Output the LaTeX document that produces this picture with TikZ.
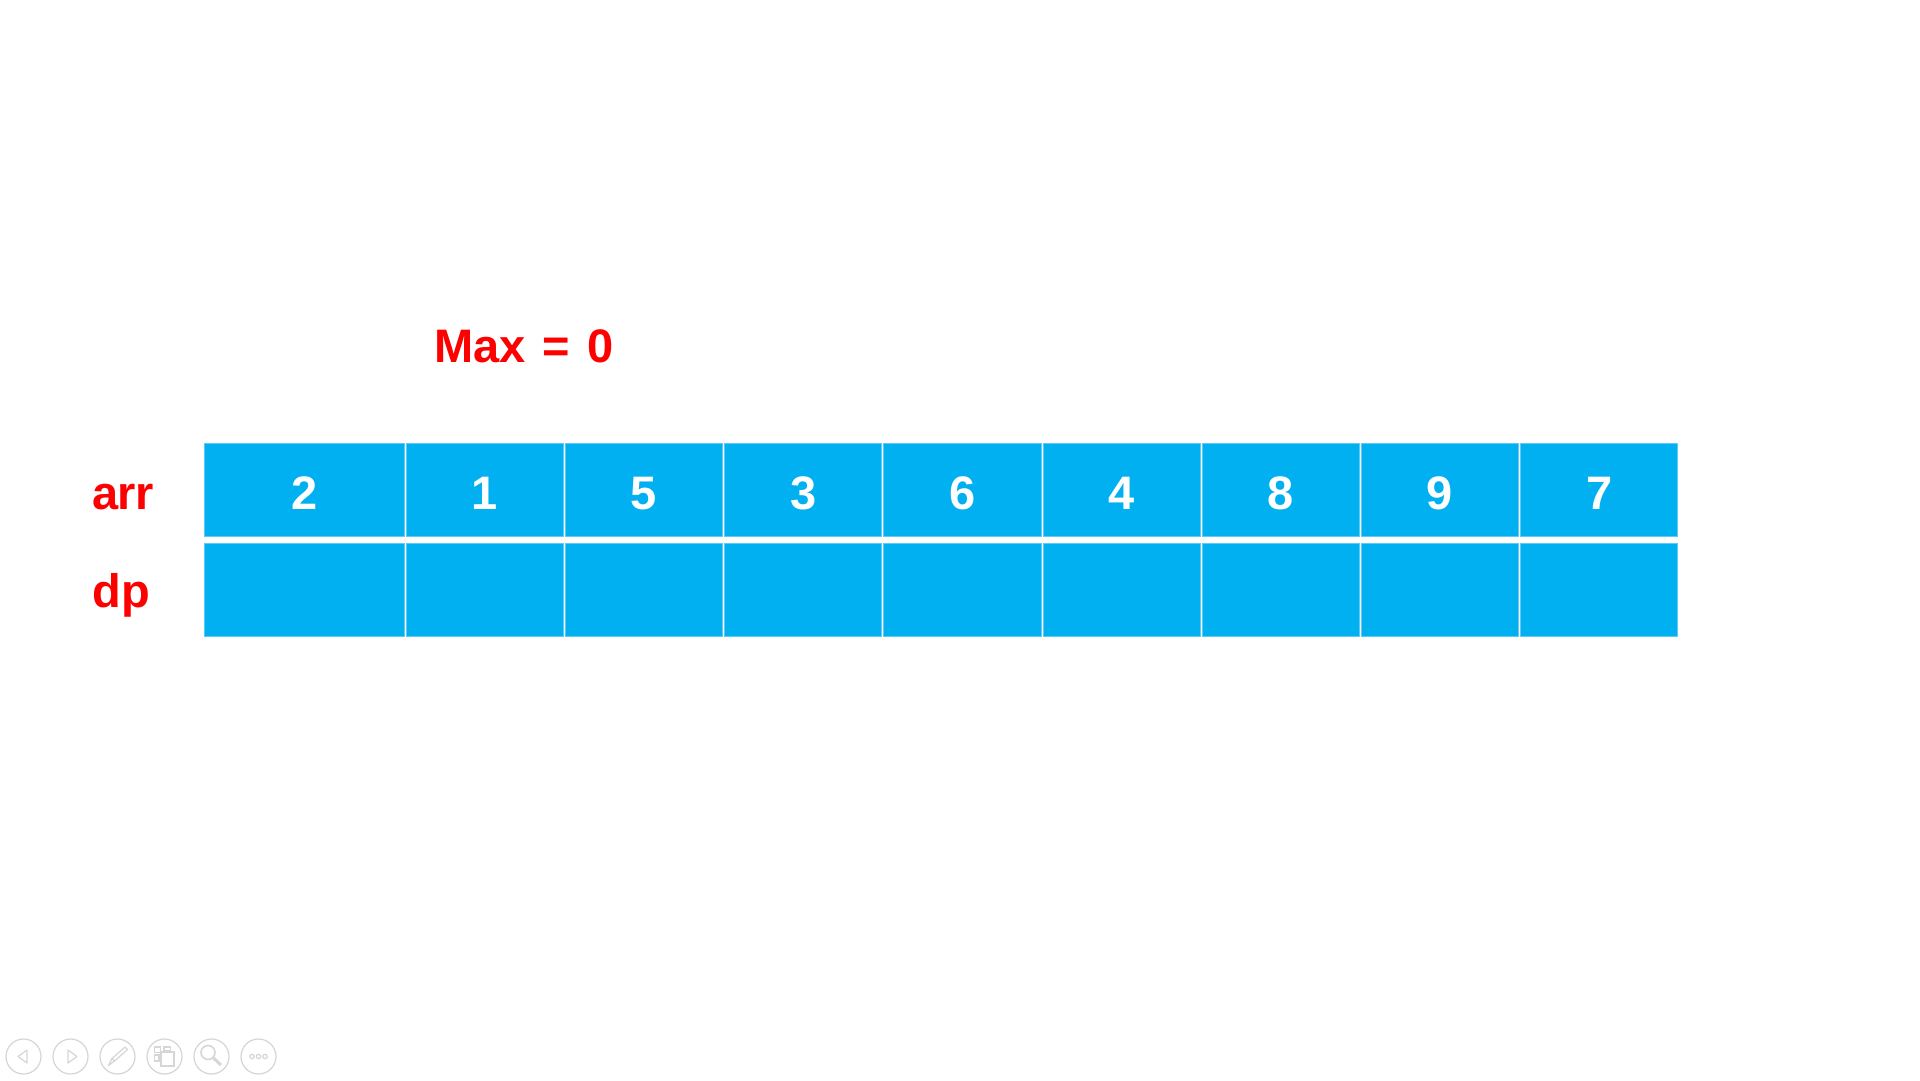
\documentclass[tikz,border=0pt]{standalone}
\usepackage{fontspec}
\setmainfont{Liberation Sans}
\newfontfamily\maxfont[WordSpace=1.3]{Liberation Sans}
\definecolor{cellblue}{HTML}{00B0F0}
\definecolor{celledge}{HTML}{5CCBF5}
\definecolor{toolgray}{HTML}{D6D6D6}
\tikzset{
  x=1pt,y=-1pt,
  cellbox/.style={draw=celledge,line width=0.7pt,fill=cellblue,anchor=north west,inner sep=0pt,outer sep=0pt},
  rowwide/.style={minimum width=199.5pt,minimum height=93pt},
  rownarrow/.style={minimum width=157.2pt,minimum height=93pt},
  digit/.style={text=white,inner sep=0pt,anchor=base,font=\fontsize{47}{47}\selectfont\bfseries},
  rowlabel/.style={text=red,anchor=base west,inner sep=0pt,font=\fontsize{47}{47}\selectfont\bfseries},
  maxstyle/.style={text=red,anchor=base west,inner sep=0pt,font=\fontsize{47}{47}\maxfont\bfseries},
  toolring/.style={draw=toolgray,line width=1.2pt,circle,minimum size=35pt,inner sep=0pt},
  toolline/.style={draw=toolgray,line width=1.2pt},
}
\begin{document}
\begin{tikzpicture}
\useasboundingbox (0,0) rectangle (1920,1080);
\fill[white] (0,0) rectangle (1920,1080);
% Max label
\node[maxstyle] (maxlabel) at (434,362.5) {Max = 0};
% Row labels
\node[rowlabel] (arrlabel) at (92.5,509) {a\kern-1pt r\kern-1pt r};
\node[rowlabel] (dplabel) at (92.5,607) {dp};
% Cells
\node[cellbox,rowwide] (a0) at (204.5,443.5) {};
\node[cellbox,rowwide] (d0) at (204.5,543.5) {};
\node[digit] (n0) at (304.7,509) {2};
\foreach \v [count=\i from 0] in {1,5,3,6,4,8,9,7}{
  \pgfmathsetmacro{\xx}{406.1+159.2*\i}
  \pgfmathsetmacro{\tx}{484.7+159.2*\i}
  \node[cellbox,rownarrow] (a\the\numexpr\i+1\relax) at (\xx,443.5) {};
  \node[cellbox,rownarrow] (d\the\numexpr\i+1\relax) at (\xx,543.5) {};
  \node[digit] (n\the\numexpr\i+1\relax) at (\tx,509) {\v};
}
% Toolbar
\foreach \cx [count=\k] in {23.5,70.5,117.5,164.5,211.5,258.5}{
  \node[toolring] (tool\k) at (\cx,1056.5) {};
}
\draw[toolline,line join=round] (27,1050) -- (18,1056.5) -- (27,1063) -- cycle;
\draw[toolline,line join=round] (68,1050) -- (77,1056.5) -- (68,1063) -- cycle;
% brush
\draw[toolline,line join=round] (125,1047) -- (127.5,1049.5) -- (114.5,1061) -- (112,1058.5) -- cycle;
\draw[toolline,line join=round] (112,1058.5) -- (108.5,1065.5) -- (114.5,1061);
% windows
\draw[toolline] (154.5,1047) rectangle (160.5,1052.5);
\draw[toolline] (164,1047) rectangle (170.5,1051);
\draw[toolline] (154.5,1055) rectangle (159,1061);
\draw[toolline,line width=1.8pt] (161,1052) rectangle (174,1066);
% magnifier
\draw[toolline,line width=1.6pt] (208,1052.5) circle[radius=7];
\draw[toolline,line width=3pt] (213.5,1058) -- (221,1065);
% dots
\foreach \dx in {252,258.5,265}{
  \draw[toolline] (\dx,1056.5) circle[radius=2.2];
}
\end{tikzpicture}
\end{document}
